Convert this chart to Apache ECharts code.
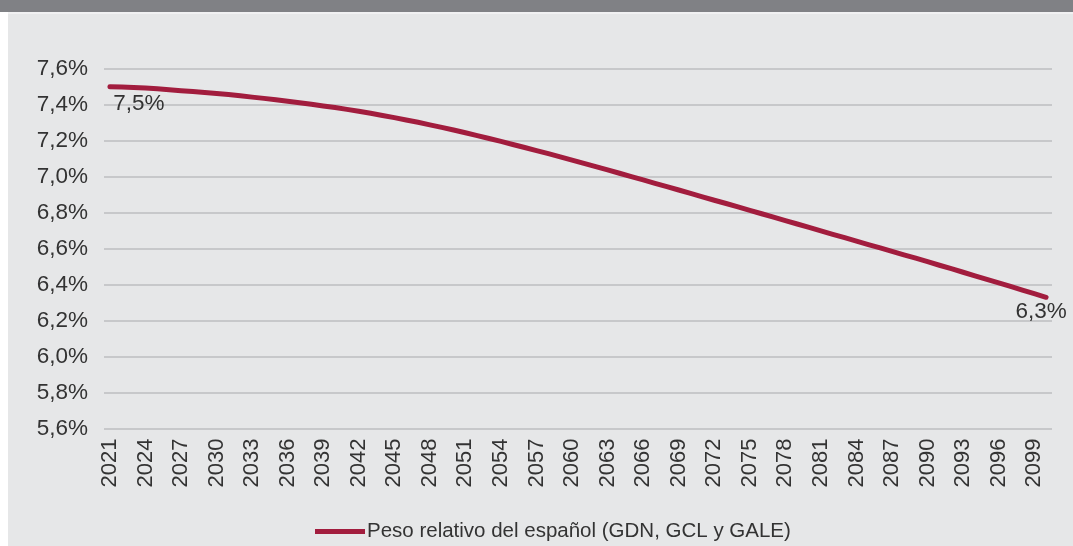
<!DOCTYPE html>
<html>
<head>
<meta charset="utf-8">
<script src="https://cdn.jsdelivr.net/npm/echarts@6/dist/echarts.min.js"></script>
<style>
  html, body { margin: 0; padding: 0; background: #ffffff; }
  #chart { width: 1073px; height: 546px; }
</style>
</head>
<body>
<div id="chart"></div>
<script>
// years 2021 .. 2100
const years = [
  2021, 2022, 2023, 2024, 2025, 2026, 2027, 2028, 2029, 2030,
  2031, 2032, 2033, 2034, 2035, 2036, 2037, 2038, 2039, 2040,
  2041, 2042, 2043, 2044, 2045, 2046, 2047, 2048, 2049, 2050,
  2051, 2052, 2053, 2054, 2055, 2056, 2057, 2058, 2059, 2060,
  2061, 2062, 2063, 2064, 2065, 2066, 2067, 2068, 2069, 2070,
  2071, 2072, 2073, 2074, 2075, 2076, 2077, 2078, 2079, 2080,
  2081, 2082, 2083, 2084, 2085, 2086, 2087, 2088, 2089, 2090,
  2091, 2092, 2093, 2094, 2095, 2096, 2097, 2098, 2099, 2100
]
// peso relativo del español, in %
const pesoRelativo = [
  7.499, 7.497, 7.494, 7.491, 7.487, 7.482, 7.477, 7.472, 7.467, 7.461,
  7.455, 7.448, 7.441, 7.434, 7.426, 7.418, 7.410, 7.401, 7.392, 7.383,
  7.373, 7.362, 7.351, 7.339, 7.327, 7.314, 7.301, 7.287, 7.273, 7.258,
  7.243, 7.227, 7.211, 7.195, 7.178, 7.161, 7.144, 7.127, 7.109, 7.091,
  7.073, 7.055, 7.037, 7.018, 6.999, 6.981, 6.962, 6.944, 6.925, 6.906,
  6.887, 6.868, 6.850, 6.831, 6.812, 6.793, 6.774, 6.755, 6.736, 6.717,
  6.698, 6.679, 6.660, 6.641, 6.622, 6.603, 6.584, 6.565, 6.546, 6.527,
  6.507, 6.488, 6.468, 6.448, 6.428, 6.409, 6.389, 6.369, 6.349, 6.329
]
const seriesName = 'Peso relativo del español (GDN, GCL y GALE)'
const yMin = 5.6
const yMax = 7.6
const yStep = 0.2

const fontFamily = '"Liberation Sans", Arial, sans-serif'
const textColor = '#333333'
const lineColor = '#a21d3e'

function pct (v) {
  return v.toFixed(1).replace('.', ',') + '%'
}

const lastIdx = pesoRelativo.length - 1
const seriesData = pesoRelativo.map((v, i) => {
  if (i === 0) {
    return { value: v, label: { show: true, position: 'bottom', distance: 5, offset: [29, 0] } }
  }
  if (i === lastIdx) {
    return { value: v, label: { show: true, position: 'bottom', distance: 3, offset: [-5, 0] } }
  }
  return v
})

const chart = echarts.init(document.getElementById('chart'))
chart.setOption({
  backgroundColor: '#ffffff',
  animation: false,
  textStyle: { fontFamily: fontFamily },
  graphic: [
    { type: 'rect', z: -10, shape: { x: 8, y: 12, width: 1065, height: 534 }, style: { fill: '#e6e7e8' } },
    { type: 'rect', z: -9, shape: { x: 0, y: 0, width: 1073, height: 12 }, style: { fill: '#808185' } },
    { type: 'rect', z: -9, shape: { x: 8, y: 12, width: 1065, height: 2 }, style: { fill: '#f1f1f2' } }
  ],
  grid: {
    left: 104,
    right: 21,
    top: 68.5,
    bottom: 117.5
  },
  legend: {
    left: 310,
    top: 516,
    icon: 'rect',
    itemWidth: 50,
    itemHeight: 5,
    data: [seriesName],
    textStyle: { fontSize: 20.5, color: textColor, fontFamily: fontFamily, padding: [0, 0, 0, -3] }
  },
  xAxis: {
    type: 'category',
    data: years,
    boundaryGap: true,
    axisLine: { show: false },
    axisTick: { show: false },
    axisLabel: {
      interval: 2,
      rotate: 90,
      margin: 10,
      fontSize: 22,
      color: textColor,
      fontFamily: fontFamily
    },
    splitLine: { show: false }
  },
  yAxis: {
    type: 'value',
    min: yMin,
    max: yMax,
    interval: yStep,
    axisLine: { show: false },
    axisTick: { show: false },
    axisLabel: {
      margin: 16,
      fontSize: 22.5,
      color: textColor,
      fontFamily: fontFamily,
      formatter: v => pct(v)
    },
    splitLine: { lineStyle: { color: '#bdbec0', width: 1.5 } }
  },
  series: [
    {
      name: seriesName,
      type: 'line',
      data: seriesData,
      symbol: 'circle',
      symbolSize: 1,
      showAllSymbol: true,
      itemStyle: { color: lineColor },
      lineStyle: { color: lineColor, width: 5, cap: 'round', join: 'round' },
      label: {
        show: false,
        fontSize: 22.5,
        color: textColor,
        fontFamily: fontFamily,
        formatter: p => pct(p.value)
      }
    }
  ]
})
</script>
</body>
</html>
